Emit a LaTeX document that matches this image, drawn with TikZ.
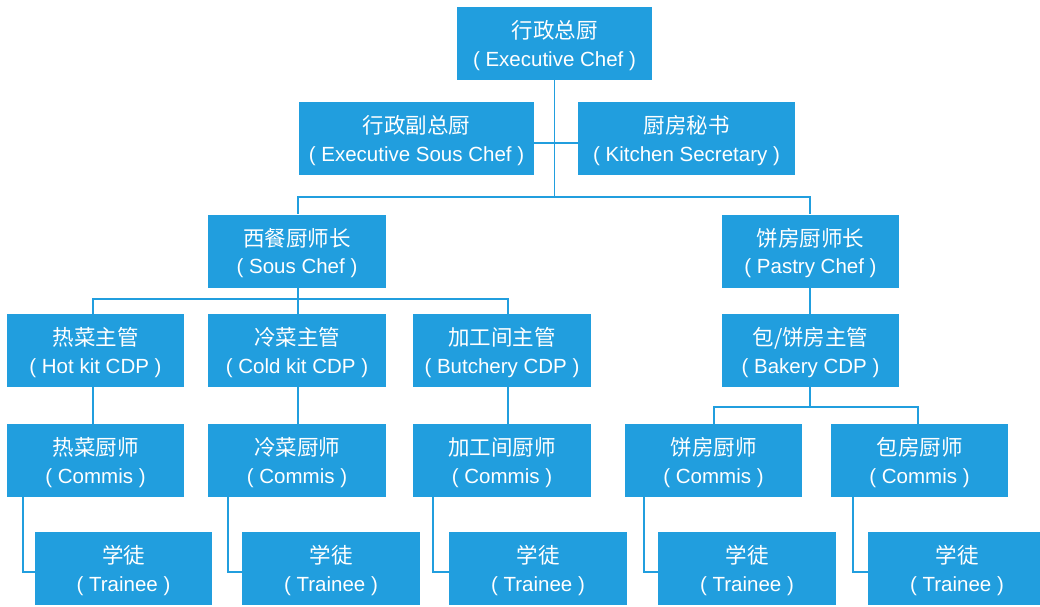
\documentclass[tikz,border=0pt]{standalone}
\usepackage{fontspec}
\setmainfont{Liberation Sans}
\newfontfamily\cjk{Noto Sans CJK SC}
\definecolor{boxblue}{RGB}{33,158,222}
\newcommand\twoline[2]{%
  \makebox[0pt]{\raisebox{5pt}[0pt][0pt]{\cjk\fontsize{21.5}{25}\selectfont #1}}%
  \makebox[0pt]{\raisebox{-22.5pt}[0pt][0pt]{\fontsize{20.5}{24}\selectfont #2}}}
\tikzset{
  orgbox/.style={fill=boxblue, text=white, inner sep=0pt, minimum height=73pt,
    text height=0pt, text depth=0pt},
  link/.style={draw=boxblue, line width=1.8pt}
}
\begin{document}
\begin{tikzpicture}[x=1pt,y=-1pt]
\useasboundingbox (0,0) rectangle (1040,606);
\clip (0,0) rectangle (1040,606);
\fill[white] (0,0) rectangle (1040,606);
% level 0
\node[orgbox, minimum width=195pt] (ec) at (554.5,43.5) {\twoline{行政总厨}{( Executive Chef )}};
% level 1
\node[orgbox, minimum width=235pt] (esc) at (416.5,138.5) {\twoline{行政副总厨}{( Executive Sous Chef )}};
\node[orgbox, minimum width=217pt] (ks) at (686.5,138.5) {\twoline{厨房秘书}{( Kitchen Secretary )}};
% level 2
\node[orgbox, minimum width=178pt] (sc) at (297,251) {\twoline{西餐厨师长}{( Sous Chef )}};
\node[orgbox, minimum width=177pt] (pc) at (810.5,251) {\twoline{饼房厨师长}{( Pastry Chef )}};
% level 3
\node[orgbox, minimum width=177pt] (hot) at (95.5,350.5) {\twoline{热菜主管}{( Hot kit CDP )}};
\node[orgbox, minimum width=178pt] (cold) at (297,350.5) {\twoline{冷菜主管}{( Cold kit CDP )}};
\node[orgbox, minimum width=178pt] (but) at (502,350.5) {\twoline{加工间主管}{( Butchery CDP )}};
\node[orgbox, minimum width=177pt] (bak) at (810.5,350.5) {\twoline{包/饼房主管}{( Bakery CDP )}};
% level 4
\node[orgbox, minimum width=177pt] (hotc) at (95.5,460.5) {\twoline{热菜厨师}{( Commis )}};
\node[orgbox, minimum width=178pt] (coldc) at (297,460.5) {\twoline{冷菜厨师}{( Commis )}};
\node[orgbox, minimum width=178pt] (butc) at (502,460.5) {\twoline{加工间厨师}{( Commis )}};
\node[orgbox, minimum width=177pt] (pasc) at (713.5,460.5) {\twoline{饼房厨师}{( Commis )}};
\node[orgbox, minimum width=177pt] (bakc) at (919.5,460.5) {\twoline{包房厨师}{( Commis )}};
% level 5
\node[orgbox, minimum width=177pt] (hott) at (123.5,568.5) {\twoline{学徒}{( Trainee )}};
\node[orgbox, minimum width=178pt] (coldt) at (331,568.5) {\twoline{学徒}{( Trainee )}};
\node[orgbox, minimum width=178pt] (butt) at (538,568.5) {\twoline{学徒}{( Trainee )}};
\node[orgbox, minimum width=178pt] (past) at (747,568.5) {\twoline{学徒}{( Trainee )}};
\node[orgbox, minimum width=178pt] (bakt) at (957,568.5) {\twoline{学徒}{( Trainee )}};
% connectors
\coordinate (j0) at (554.5,197);
\coordinate (j1) at (554.5,143);
\path[link] (ec.south) -- (j0);
\path[link] (esc.east |- j1) -- (ks.west |- j1);
\path[link] (j0) -- (298,197) -- (298,214);
\path[link] (j0) -- (810,197) -- (810,214);
% sous chef branch
\path[link] (298,288) -- (298,299);
\path[link] (93,314) -- (93,299) -- (508,299) -- (508,314);
\path[link] (298,299) -- (298,314);
\path[link] (93,387) -- (93,424);
\path[link] (298,387) -- (298,424);
\path[link] (508,387) -- (508,424);
% pastry branch
\path[link] (810,288) -- (810,314);
\path[link] (810,387) -- (810,407);
\path[link] (714,424) -- (714,407) -- (918,407) -- (918,424);
% commis to trainee
\path[link] (23,497) -- (23,572) -- (hott.west |- 0,572);
\path[link] (228,497) -- (228,572) -- (coldt.west |- 0,572);
\path[link] (433,497) -- (433,572) -- (butt.west |- 0,572);
\path[link] (644,497) -- (644,572) -- (past.west |- 0,572);
\path[link] (853,497) -- (853,572) -- (bakt.west |- 0,572);
\end{tikzpicture}
\end{document}
